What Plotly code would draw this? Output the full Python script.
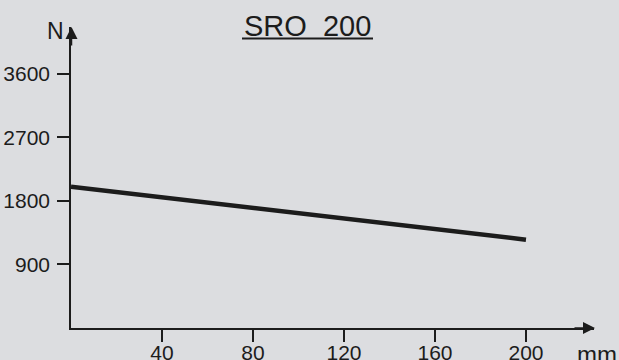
import plotly.graph_objects as go

# Load curve of the SRO 200: force (N) against stroke (mm)
stroke_mm = [0, 200]
force_n = [2000, 1250]

x_ticks = [40, 80, 120, 160, 200]
y_ticks = [900, 1800, 2700, 3600]

title_text = "SRO\u00a0\u00a0200"
x_unit = "mm"
y_unit = "N"

BG = "#dcdde0"
INK = "#1c1c1c"
FONT = "Liberation Sans, Arial, sans-serif"

# plot-area geometry in pixels (used to place paper-referenced decorations)
L, R, T, B = 71, 25, 27, 32
W, H = 619 - L - R, 360 - T - B


def px(xp):
    return (xp - L) / W


def py(yp):
    return (360 - B - yp) / H


fig = go.Figure()
fig.add_trace(go.Scatter(
    x=stroke_mm, y=force_n, mode="lines",
    line=dict(color=INK, width=4.5),
    hoverinfo="skip", showlegend=False,
))

fig.update_layout(
    width=619, height=360,
    margin=dict(l=L, r=R, t=T, b=B, pad=0, autoexpand=False),
    paper_bgcolor=BG, plot_bgcolor=BG,
    font=dict(family=FONT, size=20, color=INK),
    xaxis=dict(
        range=[0, 229.9], tickvals=x_ticks, ticks="outside", ticklen=12,
        tickwidth=1.5, tickcolor=INK, showline=True, linecolor=INK,
        linewidth=1.5, showgrid=False, zeroline=False, ticklabelstandoff=-7,
        fixedrange=True, automargin=False,
        tickfont=dict(family=FONT, size=21, color=INK),
    ),
    yaxis=dict(
        range=[0, 4261], tickvals=y_ticks, ticks="outside", ticklen=12,
        tickwidth=1.5, tickcolor=INK, showline=True, linecolor=INK,
        linewidth=1.5, showgrid=False, zeroline=False, ticklabelstandoff=3,
        fixedrange=True, automargin=False,
        tickfont=dict(family=FONT, size=21, color=INK),
    ),
)

# axis arrowheads
fig.add_annotation(xref="paper", yref="paper", x=px(595), y=py(328),
                   ax=-22, ay=0, showarrow=True, arrowhead=2, arrowsize=1.6,
                   arrowwidth=1.5, arrowcolor=INK, text="")
fig.add_annotation(xref="paper", yref="paper", x=px(71.5), y=py(27),
                   ax=0, ay=20, showarrow=True, arrowhead=2, arrowsize=1.6,
                   arrowwidth=1.5, arrowcolor=INK, text="")

# axis unit labels
fig.add_annotation(xref="paper", yref="paper", x=px(55), y=py(31),
                   text=y_unit, showarrow=False, font=dict(size=23),
                   xanchor="center", yanchor="middle")
fig.add_annotation(xref="paper", yref="paper", x=px(597), y=py(354.5),
                   text=x_unit, showarrow=False, font=dict(size=24),
                   xanchor="center", yanchor="middle")

# underlined title
fig.add_annotation(xref="paper", yref="paper", x=px(307), y=py(26),
                   text=title_text, showarrow=False, font=dict(size=29),
                   xanchor="center", yanchor="middle")
fig.add_shape(type="line", xref="paper", yref="paper",
              x0=px(242), x1=px(373), y0=py(38.5), y1=py(38.5),
              line=dict(color=INK, width=2))

fig.write_html("out.html")
